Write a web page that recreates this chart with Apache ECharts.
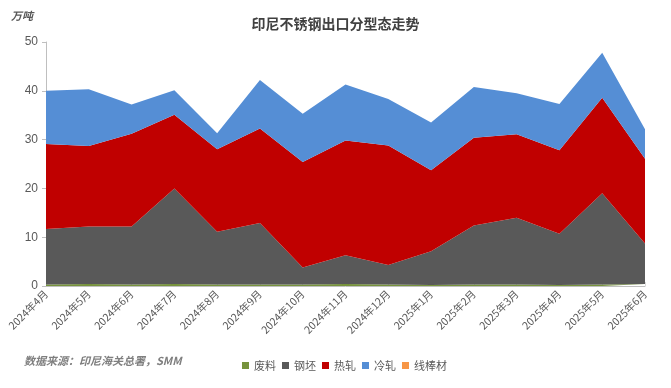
<!DOCTYPE html>
<html><head><meta charset="utf-8">
<script src="https://cdn.jsdelivr.net/npm/echarts@6/dist/echarts.min.js"></script>
<style>html,body{margin:0;padding:0;background:#fff}#c{width:671px;height:388px}</style>
</head><body><div id="c"></div>
<script>
var categories = ['2024年4月','2024年5月','2024年6月','2024年7月','2024年8月','2024年9月','2024年10月','2024年11月','2024年12月','2025年1月','2025年2月','2025年3月','2025年4月','2025年5月','2025年6月'];
var scrap   = [0.3,0.4,0.3,0.4,0.3,0.3,0.3,0.4,0.3,0.2,0.3,0.3,0.2,0.3,0.4];
var billet  = [11.4,11.8,11.9,19.6,10.8,12.6,3.5,5.9,4.0,6.9,12.1,13.7,10.5,18.7,8.3];
var hotRoll = [17.4,16.5,19.0,15.1,16.9,19.4,21.6,23.5,24.5,16.6,18.0,17.1,17.1,19.6,17.4];
var coldRoll= [10.9,11.6,6.0,5.0,3.3,9.9,9.9,11.5,9.5,9.8,10.4,8.4,9.5,9.2,6.0];
var wireRod = [0,0,0,0,0,0,0,0,0,0,0,0,0,0,0];
var yTicks = [0,10,20,30,40,50];

var names = ['废料','钢坯','热轧','冷轧','线棒材'];
var colors = ['#77933c','#595959','#c00000','#558ed5','#f79646'];
var datas = [scrap,billet,hotRoll,coldRoll,wireRod];

var chart = echarts.init(document.getElementById('c'));
chart.setOption({
  animation:false,
  color:colors,
  title:{text:'印尼不锈钢出口分型态走势',left:'center',top:12,
    textStyle:{fontSize:14,fontWeight:'bold',color:'#404040',fontFamily:'Noto Sans CJK SC'}},
  graphic:[
    {type:'text',left:11,top:10,style:{text:'万吨',fontSize:11,fontStyle:'italic',fontWeight:'bold',fill:'#595959',fontFamily:'Noto Sans CJK SC'}},
    {type:'text',left:24,top:355,style:{text:'数据来源：印尼海关总署，SMM',fontSize:11,fontStyle:'italic',fontWeight:'bold',fill:'#7f7f7f',fontFamily:'Noto Sans CJK SC'}}
  ],
  legend:{left:237,top:355,itemWidth:7,itemHeight:7,itemGap:6,icon:'rect',
    textStyle:{fontSize:11,color:'#595959',fontFamily:'Noto Sans CJK SC'},
    data:names},
  grid:{left:46,right:26,top:42,bottom:102,containLabel:false},
  xAxis:{type:'category',data:categories,boundaryGap:false,
    axisLine:{lineStyle:{color:'#bfbfbf',width:1}},
    axisTick:{inside:true,length:4,lineStyle:{color:'#d9d9d9'}},
    axisLabel:{rotate:45,fontSize:10.5,color:'#595959',margin:6,fontFamily:'Noto Sans CJK SC'}},
  yAxis:{type:'value',min:yTicks[0],max:yTicks[yTicks.length-1],interval:10,
    axisLine:{show:true,lineStyle:{color:'#bfbfbf'}},
    axisTick:{show:true,length:4,lineStyle:{color:'#bfbfbf'}},
    splitLine:{show:false},
    axisLabel:{fontSize:12,color:'#595959',margin:8}},
  series:names.map(function(n,i){return {
    name:n,type:'line',stack:'total',data:datas[i],showSymbol:false,symbol:'none',
    lineStyle:{width:0},areaStyle:{color:colors[i],opacity:1},itemStyle:{color:colors[i]}
  };})
});
</script></body></html>
